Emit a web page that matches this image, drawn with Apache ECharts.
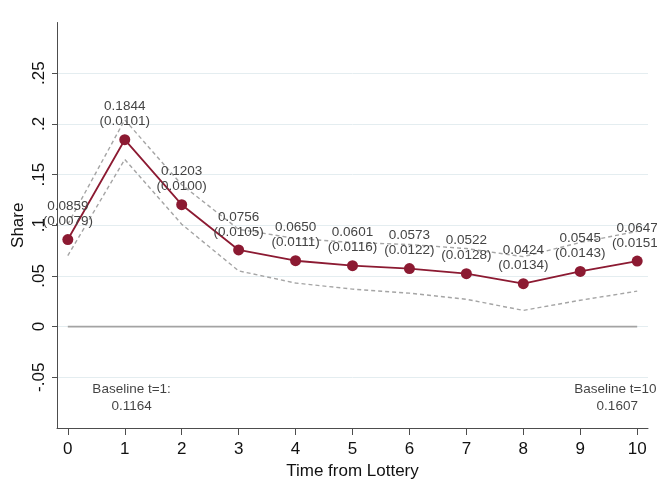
<!DOCTYPE html>
<html>
<head>
<meta charset="utf-8">
<script src="https://cdn.jsdelivr.net/npm/echarts@6/dist/echarts.min.js"></script>
<style>
  html, body { margin: 0; padding: 0; background: #fff; }
  #main { width: 657px; height: 495px; }
</style>
</head>
<body>
<div id="main"></div>
<script>
// time from lottery
const times = [0, 1, 2, 3, 4, 5, 6, 7, 8, 9, 10];
// point estimates and standard errors (printed above each marker)
const estimates = [0.0859, 0.1844, 0.1203, 0.0756, 0.0650, 0.0601, 0.0573, 0.0522, 0.0424, 0.0545, 0.0647];
const stdErrors = [0.0079, 0.0101, 0.0100, 0.0105, 0.0111, 0.0116, 0.0122, 0.0128, 0.0134, 0.0143, 0.0151];
// dashed confidence bands
const upperBand = [0.101, 0.204, 0.140, 0.096, 0.087, 0.083, 0.081, 0.077, 0.069, 0.083, 0.094];
const lowerBand = [0.070, 0.165, 0.101, 0.055, 0.043, 0.037, 0.033, 0.027, 0.016, 0.026, 0.035];
// y ticks
const yTickVals = [-0.05, 0, 0.05, 0.1, 0.15, 0.2, 0.25];
const yTickLabels = ['-.05', '0', '.05', '.1', '.15', '.2', '.25'];
// baseline notes
const baselineX = [1.12, 9.65];
const baselineY = [-0.07, -0.07];
const baselineNames = ['Baseline t=1:', 'Baseline t=10:'];
const baselineVals = ['0.1164', '0.1607'];

const FONT = "'Liberation Sans', Arial, sans-serif";
const RED = '#8c1a32';
const AXIS = '#4d4d4d';

const pairs = (xs, ys) => xs.map((x, i) => [x, ys[i]]);

const config = () => {
    return {
        animation: false,
        grid: { left: 57, right: 9, top: 22.5, bottom: 67, containLabel: false, outerBoundsMode: 'none' },
        xAxis: {
            type: 'value',
            min: -0.19,
            max: 10.19,
            name: 'Time from Lottery',
            nameLocation: 'middle',
            nameGap: 30,
            nameTextStyle: { fontFamily: FONT, fontSize: 17, color: '#111' },
            axisLine: { show: true, onZero: false, lineStyle: { color: AXIS, width: 1 } },
            axisTick: { show: true, length: 7, customValues: times, lineStyle: { color: AXIS } },
            axisLabel: {
                customValues: times,
                margin: 13,
                fontFamily: FONT, fontSize: 17, color: '#111'
            },
            splitLine: { show: false }
        },
        yAxis: {
            type: 'value',
            min: -0.1,
            max: 0.3,
            interval: 0.05,
            name: 'Share',
            nameLocation: 'middle',
            nameRotate: 90,
            nameGap: 30,
            nameMoveOverlap: false,
            nameTextStyle: { fontFamily: FONT, fontSize: 17, color: '#111' },
            axisLine: { show: true, onZero: false, lineStyle: { color: AXIS, width: 1 } },
            axisTick: { show: true, length: 5, customValues: yTickVals, lineStyle: { color: AXIS } },
            axisLabel: {
                customValues: yTickVals,
                rotate: 90,
                margin: 9,
                fontFamily: FONT, fontSize: 17, color: '#111',
                formatter: function (v) {
                    const i = yTickVals.findIndex(t => Math.abs(t - v) < 1e-9);
                    return i >= 0 ? yTickLabels[i] : '';
                }
            },
            splitLine: { show: false }
        },
        series: [
            {
                // only carries the horizontal grid lines, drawn beneath everything
                name: 'grid',
                type: 'line',
                data: [],
                z: 0,
                silent: true,
                markLine: {
                    silent: true,
                    z: 0,
                    symbol: ['none', 'none'],
                    label: { show: false },
                    lineStyle: { color: '#e4edf0', type: 'solid', width: 1 },
                    data: yTickVals.map(v => ({ yAxis: v }))
                }
            },
            {
                name: 'zero',
                type: 'line',
                data: pairs(times, times.map(() => 0)),
                symbol: 'none',
                lineStyle: { color: '#a3a3a3', width: 1.6 },
                z: 1,
                silent: true
            },
            {
                name: 'upper',
                type: 'line',
                data: pairs(times, upperBand),
                symbol: 'none',
                lineStyle: { color: '#a5a5a5', width: 1.4, type: [4, 3] },
                z: 2
            },
            {
                name: 'lower',
                type: 'line',
                data: pairs(times, lowerBand),
                symbol: 'none',
                lineStyle: { color: '#a5a5a5', width: 1.4, type: [4, 3] },
                z: 2
            },
            {
                name: 'Share',
                type: 'line',
                data: pairs(times, estimates),
                symbol: 'circle',
                symbolSize: 11,
                itemStyle: { color: RED },
                lineStyle: { color: RED, width: 1.8 },
                z: 3,
                label: {
                    show: true,
                    position: 'top',
                    distance: 5,
                    fontFamily: FONT,
                    fontSize: 13.5,
                    lineHeight: 15,
                    color: '#444',
                    formatter: function (p) {
                        return estimates[p.dataIndex].toFixed(4) + '\n(' + stdErrors[p.dataIndex].toFixed(4) + ')';
                    }
                }
            },
            {
                name: 'baseline',
                type: 'scatter',
                data: pairs(baselineX, baselineY),
                symbolSize: 0,
                silent: true,
                z: 4,
                label: {
                    show: true,
                    position: 'inside',
                    fontFamily: FONT,
                    fontSize: 13.5,
                    lineHeight: 17,
                    color: '#111',
                    formatter: function (p) {
                        return baselineNames[p.dataIndex] + '\n' + baselineVals[p.dataIndex];
                    }
                }
            }
        ]
    };
};

const myChart = echarts.init(document.getElementById('main'), null, { renderer: 'canvas' });
myChart.setOption(config());
</script>
</body>
</html>
